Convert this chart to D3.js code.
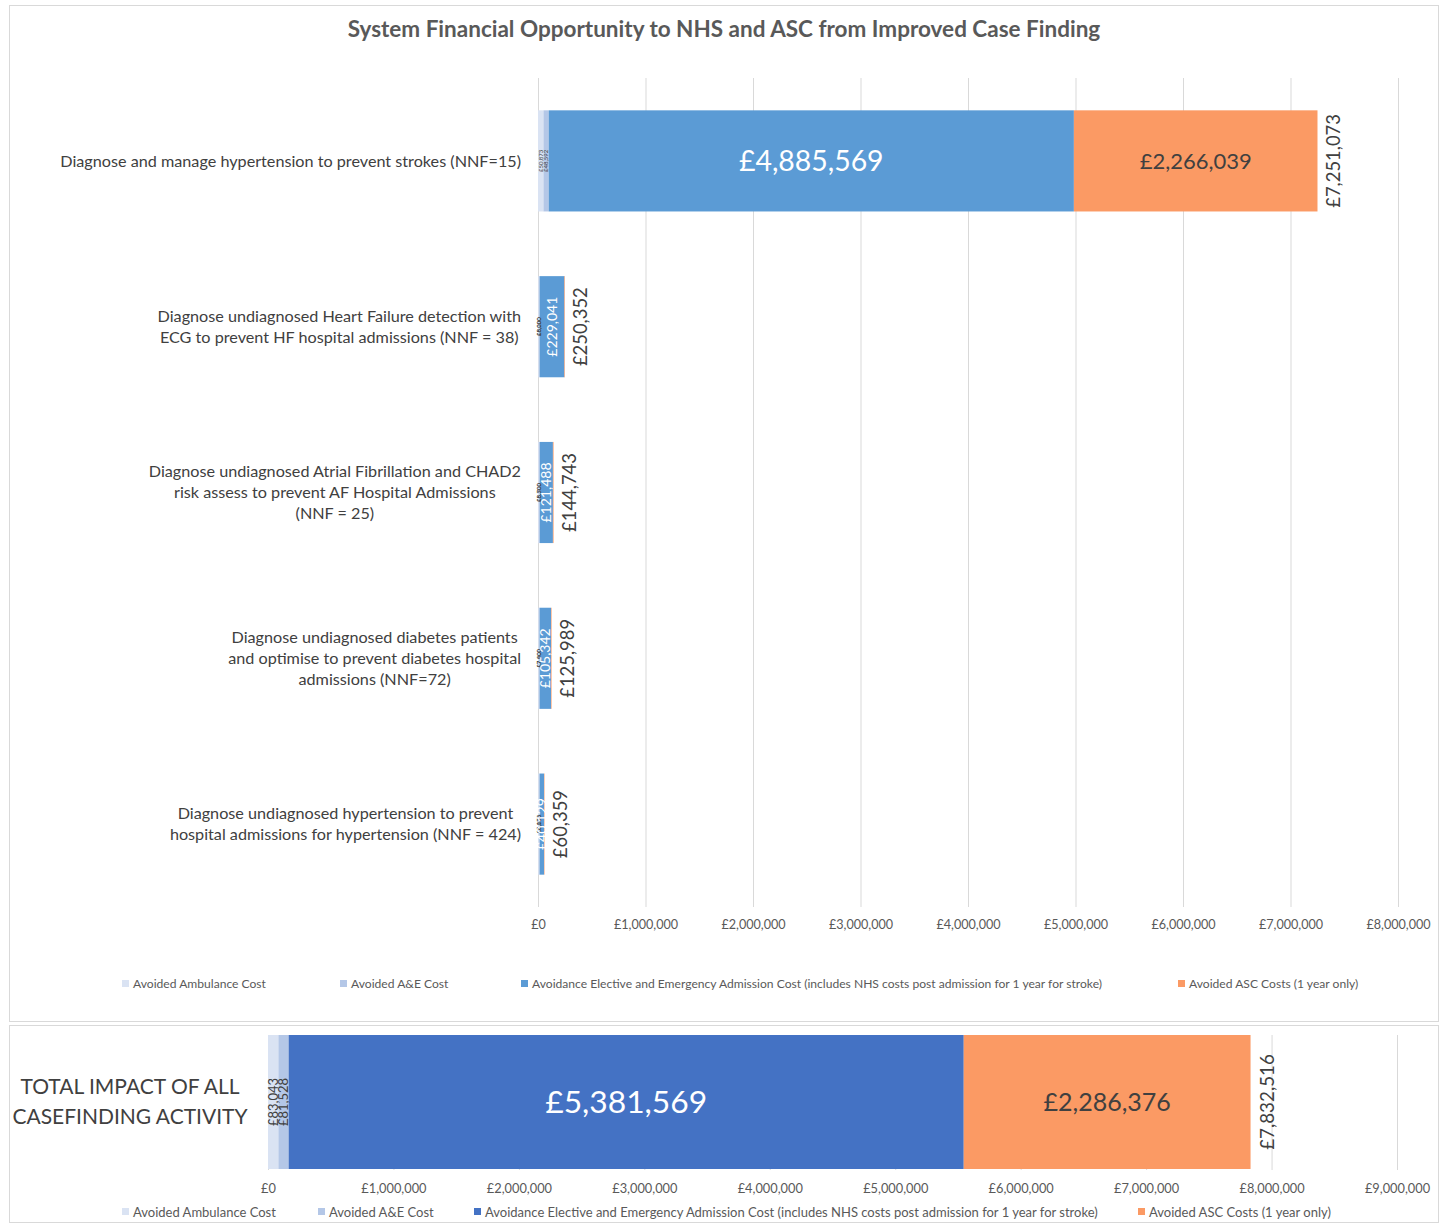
<!DOCTYPE html>
<html><head><meta charset="utf-8">
<script src="https://cdn.jsdelivr.net/npm/d3@7"></script>
<style>body{margin:0;background:#fff;font-family:Lato,"Open Sans",sans-serif;}</style>
</head><body><svg id="c" width="1445" height="1224"></svg>
<script>
const categories = [
  ["Diagnose and manage hypertension to prevent strokes (NNF=15)"],
  ["Diagnose undiagnosed Heart Failure detection with","ECG to prevent HF hospital admissions (NNF = 38)"],
  ["Diagnose undiagnosed Atrial Fibrillation and CHAD2","risk assess to prevent AF Hospital Admissions","(NNF = 25)"],
  ["Diagnose undiagnosed diabetes patients","and optimise to prevent diabetes hospital","admissions (NNF=72)"],
  ["Diagnose undiagnosed hypertension to prevent","hospital admissions for hypertension (NNF = 424)"]
];
const seriesNames = ["Avoided Ambulance Cost","Avoided A&E Cost","Avoidance Elective and Emergency Admission Cost (includes NHS costs post admission for 1 year for stroke)","Avoided ASC Costs (1 year only)"];
const ambulance = [50873, 8000, 8500, 7600, 8070];
const ae        = [48592, 8200, 8700, 7900, 8136];
const elective  = [4885569, 229041, 121488, 105342, 40129];
const asc       = [2266039, 5111, 6055, 5147, 4024];
const totals    = [7251073, 250352, 144743, 125989, 60359];
const totalLabel = ["TOTAL IMPACT OF ALL","CASEFINDING ACTIVITY"];
const totAmbulance = 83043, totAE = 81528, totElective = 5381569, totASC = 2286376, grandTotal = 7832516;
const topTicks = [0,1000000,2000000,3000000,4000000,5000000,6000000,7000000,8000000];
const bottomTicks = [0,1000000,2000000,3000000,4000000,5000000,6000000,7000000,8000000,9000000];
const title = "System Financial Opportunity to NHS and ASC from Improved Case Finding";

const topColors = ["#dae3f3","#b4c7e7","#5b9bd5","#fb9a64"];
const botColors = ["#dae3f3","#b4c7e7","#4472c4","#fb9a64"];
const fmt = v => "£" + d3.format(",")(v);
const svg = d3.select("#c");
const FONT = "Lato, 'Open Sans', sans-serif";
svg.append("rect").attr("width",1445).attr("height",1224).attr("fill","#fff");
svg.append("rect").attr("x",9.5).attr("y",5.5).attr("width",1429).attr("height",1016).attr("fill","none").attr("stroke","#d9d9d9");
svg.append("rect").attr("x",9.5).attr("y",1025.5).attr("width",1429).attr("height",197).attr("fill","none").attr("stroke","#d9d9d9");

svg.append("text").attr("x",724).attr("y",37).attr("text-anchor","middle")
  .attr("font-family",FONT).attr("font-weight","bold").attr("font-size",22.5).attr("fill","#595959").text(title);

// ---- Top chart
const x = d3.scaleLinear().domain([0,8000000]).range([538,1398]);
const idx = d3.range(categories.length);
const y = d3.scaleBand().domain(idx).range([78,907]).paddingInner(0.39).paddingOuter(0.195);
const g = svg.append("g");
g.selectAll("line.grid").data(topTicks).join("line").attr("class","grid")
  .attr("x1",d=>x(d)+0.5).attr("x2",d=>x(d)+0.5).attr("y1",78).attr("y2",907)
  .attr("stroke","#d9d9d9").attr("stroke-width",1);
const ax = g.append("g").attr("transform","translate(0,917)")
  .call(d3.axisBottom(x).tickValues(topTicks).tickFormat(fmt).tickSize(0));
ax.select(".domain").remove();
ax.selectAll("text").attr("font-family",FONT).attr("font-size",12.6).attr("fill","#595959").attr("dy","0.71em");

const rows = idx.map(i => {
  const vals = [ambulance[i], ae[i], elective[i], asc[i]];
  let acc = 0;
  return vals.map((v,k) => { const s = {i, k, v, x0: acc, x1: acc + v}; acc += v; return s; });
});
const segs = rows.flat();
g.selectAll("rect.seg").data(segs).join("rect").attr("class","seg")
  .attr("x",d=>x(d.x0)).attr("width",d=>Math.max(0,x(d.x1)-x(d.x0)))
  .attr("y",d=>y(d.i)).attr("height",y.bandwidth()).attr("fill",d=>topColors[d.k]);

// category labels
const CFS = 16.2;
idx.forEach(i => {
  const lines = categories[i];
  const t = g.append("text").attr("font-family",FONT).attr("font-size",CFS).attr("fill","#404040").attr("text-anchor","middle");
  const tmp = lines.map(l => { const tt = g.append("text").attr("font-family",FONT).attr("font-size",CFS).text(l); const w = tt.node().getComputedTextLength(); tt.remove(); return w; });
  const maxW = d3.max(tmp);
  const cx = 521 - maxW/2;
  const cy = y(i) + y.bandwidth()/2;
  const lh = 21;
  lines.forEach((l,j) => {
    t.append("tspan").attr("x",cx).attr("y",cy + (j - (lines.length-1)/2)*lh).attr("dy","0.35em").text(l);
  });
});

// data labels
segs.forEach(d => {
  const w = x(d.x1) - x(d.x0);
  const cx = (x(d.x0)+x(d.x1))/2, cy = y(d.i) + y.bandwidth()/2;
  if (d.k === 2) {
    if (w > 200) {
      g.append("text").attr("x",cx).attr("y",cy).attr("dy","0.35em").attr("text-anchor","middle")
        .attr("font-family",FONT).attr("font-size",28.4).attr("fill","#fff").text(fmt(d.v));
    } else {
      g.append("text").attr("transform",`translate(${cx},${cy}) rotate(-90)`).attr("dy","0.35em").attr("text-anchor","middle")
        .attr("font-family",FONT).attr("font-size",14).attr("fill","#fff").text(fmt(d.v));
    }
  } else if (d.k === 3) {
    if (w > 100) g.append("text").attr("x",cx).attr("y",cy).attr("dy","0.35em").attr("text-anchor","middle")
        .attr("font-family",FONT).attr("font-size",22).attr("fill","#404040").text(fmt(d.v));
  } else {
    g.append("text").attr("transform",`translate(${cx},${cy}) rotate(-90)`).attr("dy","0.35em").attr("text-anchor","middle")
      .attr("font-family",FONT).attr("font-size",6).attr("fill","#404040").text(fmt(d.v));
  }
});
idx.forEach(i => {
  const ex = x(totals[i]) + 16, cy = y(i) + y.bandwidth()/2;
  g.append("text").attr("transform",`translate(${ex},${cy}) rotate(-90)`).attr("dy","0.35em").attr("text-anchor","middle")
    .attr("font-family",FONT).attr("font-size",18.4).attr("fill","#404040").text(fmt(totals[i]));
});

// legend
function legend(yPos, xs, colors, fs){
  seriesNames.forEach((n,k) => {
    svg.append("rect").attr("x",xs[k]).attr("y",yPos-4).attr("width",7).attr("height",7).attr("fill",colors[k]);
    svg.append("text").attr("x",xs[k]+11).attr("y",yPos).attr("dy","0.35em").attr("font-family",FONT)
      .attr("font-size",fs).attr("fill","#595959").text(n);
  });
}
legend(984, [122,340,521,1178], topColors, 12.1);

// ---- Bottom chart
const x2 = d3.scaleLinear().domain([0,9000000]).range([268,1397]);
const y2 = d3.scaleBand().domain(["total"]).range([1035,1169]);
svg.selectAll("line.grid2").data(bottomTicks).join("line").attr("class","grid2")
  .attr("x1",d=>x2(d)+0.5).attr("x2",d=>x2(d)+0.5).attr("y1",1035).attr("y2",1170)
  .attr("stroke","#d9d9d9");
const ax2 = svg.append("g").attr("transform","translate(0,1181)")
  .call(d3.axisBottom(x2).tickValues(bottomTicks).tickFormat(fmt).tickSize(0));
ax2.select(".domain").remove();
ax2.selectAll("text").attr("font-family",FONT).attr("font-size",12.8).attr("fill","#595959").attr("dy","0.71em");
const bvals = [totAmbulance, totAE, totElective, totASC];
let acc2 = 0;
const bsegs = bvals.map((v,k)=>{const s={k,v,x0:acc2,x1:acc2+v}; acc2+=v; return s;});
svg.selectAll("rect.bseg").data(bsegs).join("rect").attr("class","bseg")
  .attr("x",d=>x2(d.x0)).attr("width",d=>x2(d.x1)-x2(d.x0)).attr("y",y2("total")).attr("height",y2.bandwidth())
  .attr("fill",d=>botColors[d.k]);
const bcy = y2("total") + y2.bandwidth()/2;
bsegs.forEach(d => {
  const cx = (x2(d.x0)+x2(d.x1))/2;
  if (d.k === 2) svg.append("text").attr("x",cx).attr("y",bcy).attr("dy","0.35em").attr("text-anchor","middle")
    .attr("font-family",FONT).attr("font-size",31.8).attr("fill","#fff").text(fmt(d.v));
  else if (d.k === 3) svg.append("text").attr("x",cx).attr("y",bcy).attr("dy","0.35em").attr("text-anchor","middle")
    .attr("font-family",FONT).attr("font-size",25).attr("fill","#404040").text(fmt(d.v));
  else svg.append("text").attr("transform",`translate(${cx},${bcy}) rotate(-90)`).attr("dy","0.35em").attr("text-anchor","middle")
    .attr("font-family",FONT).attr("font-size",13).attr("fill","#404040").text(fmt(d.v));
});
svg.append("text").attr("transform",`translate(${x2(grandTotal)+17},${bcy}) rotate(-90)`).attr("dy","0.35em").attr("text-anchor","middle")
  .attr("font-family",FONT).attr("font-size",18.8).attr("fill","#404040").text(fmt(grandTotal));
const tl = svg.append("text").attr("font-family",FONT).attr("font-size",21).attr("fill","#404040").attr("text-anchor","middle");
totalLabel.forEach((l,j)=> tl.append("tspan").attr("x",130).attr("y",bcy + (j-0.5)*30).attr("dy","0.35em").text(l));
legend(1212, [122,318,474,1138], botColors, 13);
</script></body></html>
